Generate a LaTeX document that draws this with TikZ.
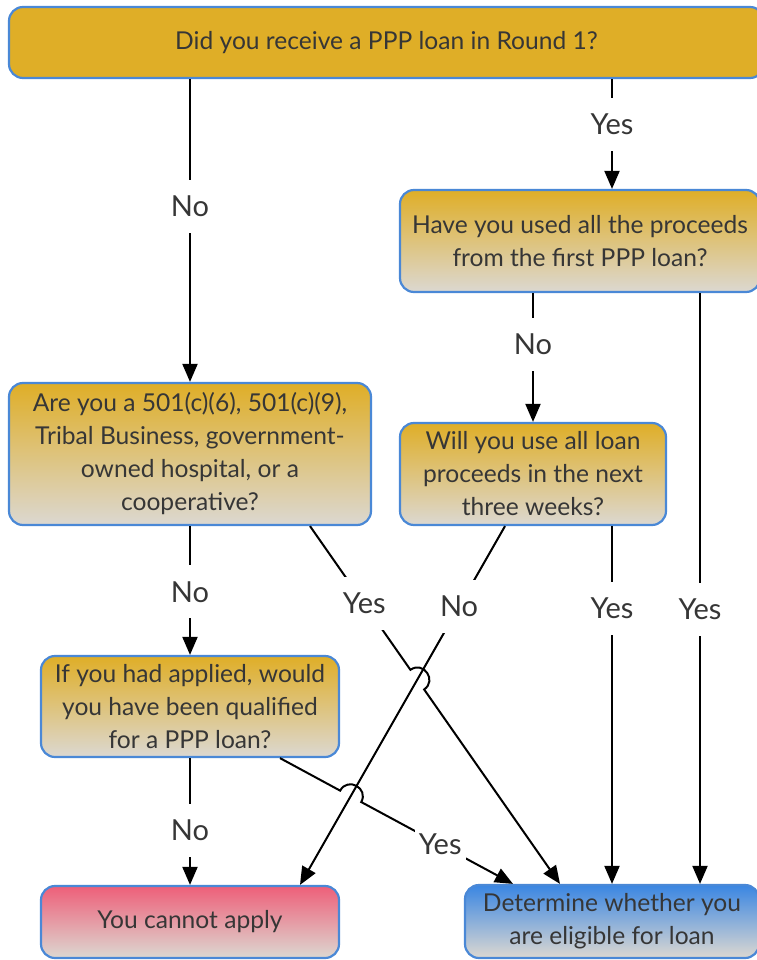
\documentclass[tikz,border=0pt]{standalone}
\usepackage{fontspec}
\setmainfont{Lato}
\usetikzlibrary{arrows.meta,calc}
\definecolor{gold}{HTML}{DFAE27}
\definecolor{grayb}{HTML}{DCD8D1}
\definecolor{pinkt}{HTML}{EE5F79}
\definecolor{bluet}{HTML}{3A86E2}
\definecolor{bord}{HTML}{4A88D6}
\definecolor{txt}{HTML}{363636}
\begin{document}
\begin{tikzpicture}[x=1pt,y=-1pt,
  box/.style={draw=bord, line width=2.2pt, rounded corners=14pt, align=center,
    text=txt, font=\fontsize{24.6}{33}\selectfont, inner sep=0pt},
  solidbox/.style={box, fill=gold},
  goldbox/.style={box, top color=gold, bottom color=grayb},
  pinkbox/.style={box, top color=pinkt, bottom color=grayb},
  bluebox/.style={box, top color=bluet, bottom color=grayb},
  arr/.style={line width=2pt, -{Triangle[length=18pt,width=15pt]}},
  lab/.style={fill=white, text=txt, font=\fontsize{29}{32}\selectfont,
    inner xsep=4pt, inner ysep=16pt}
]
\useasboundingbox (0,0) rectangle (756,960);

\node[solidbox, minimum width=755pt, minimum height=71pt] (q1) at (386.5,42.5)
  {Did you receive a PPP loan in Round 1?};
\node[goldbox, minimum width=360pt, minimum height=102pt] (q2) at (580,241)
  {Have you used all the proceeds\\from the first PPP loan?};
\node[goldbox, minimum width=362pt, minimum height=142pt] (q3) at (190,454)
  {Are you a 501(c)(6), 501(c)(9),\\Tribal Business, government-\\owned hospital, or a\\cooperative?};
\node[goldbox, minimum width=266pt, minimum height=102pt] (q4) at (533,474)
  {Will you use all loan\\proceeds in the next\\three weeks?};
\node[goldbox, minimum width=298pt, minimum height=101pt] (q5) at (190,706.5)
  {If you had applied, would\\you have been qualified\\for a PPP loan?};
\node[pinkbox, minimum width=298pt, minimum height=72pt] (q6) at (190,922)
  {You cannot apply};
\node[bluebox, minimum width=294pt, minimum height=73pt] (q7) at (612,921.5)
  {Determine whether you\\are eligible for loan};

\draw[arr] (q1.south -| q3.north) -- node[lab,pos=.42]{No} (q3.north);
\draw[arr] ([xshift=225.5pt]q1.south) -- node[lab,pos=.41]{Yes} ([xshift=32pt]q2.north);
\draw[arr] ([xshift=-47pt]q2.south) -- node[lab,pos=.40]{No} (q4.north);
\draw[arr] ([xshift=120pt]q2.south) -- node[lab,pos=.535]{Yes} ([xshift=88pt]q7.north);
\draw[arr] ([xshift=79pt]q4.south) -- node[lab,pos=.23]{Yes} (q7.north);
\draw[arr] (q3.south) -- node[lab,pos=.51]{No} (q5.north);
\draw[arr] (q5.south) -- node[lab,pos=.57]{No} (q6.north);

\coordinate (a1) at ([xshift=120pt]q3.south);
\coordinate (a2) at ([xshift=-52pt]q7.north);
\coordinate (b1) at ([xshift=-28pt]q4.south);
\coordinate (b2) at ([xshift=110pt]q6.north);
\coordinate (c1) at ([xshift=90pt]q5.south);
\coordinate (c2) at ([xshift=-99pt]q7.north);
\coordinate (x1) at (intersection of a1--a2 and b1--b2);
\coordinate (x2) at (intersection of c1--c2 and b1--b2);

\draw[arr] (b1) -- node[lab,pos=.224]{No} (b2);
\draw[arr] (a1) -- node[lab,pos=.54]{Yes} ($(x1)!12pt!(a1)$)
  to[bend left=90, looseness=1.7] ($(x1)!12pt!(a2)$) -- (a2);
\draw[arr] (c1) -- ($(x2)!12pt!(c1)$)
  to[bend left=90, looseness=1.7] ($(x2)!12pt!(c2)$) -- node[lab,pos=.52]{Yes} (c2);
\end{tikzpicture}
\end{document}
